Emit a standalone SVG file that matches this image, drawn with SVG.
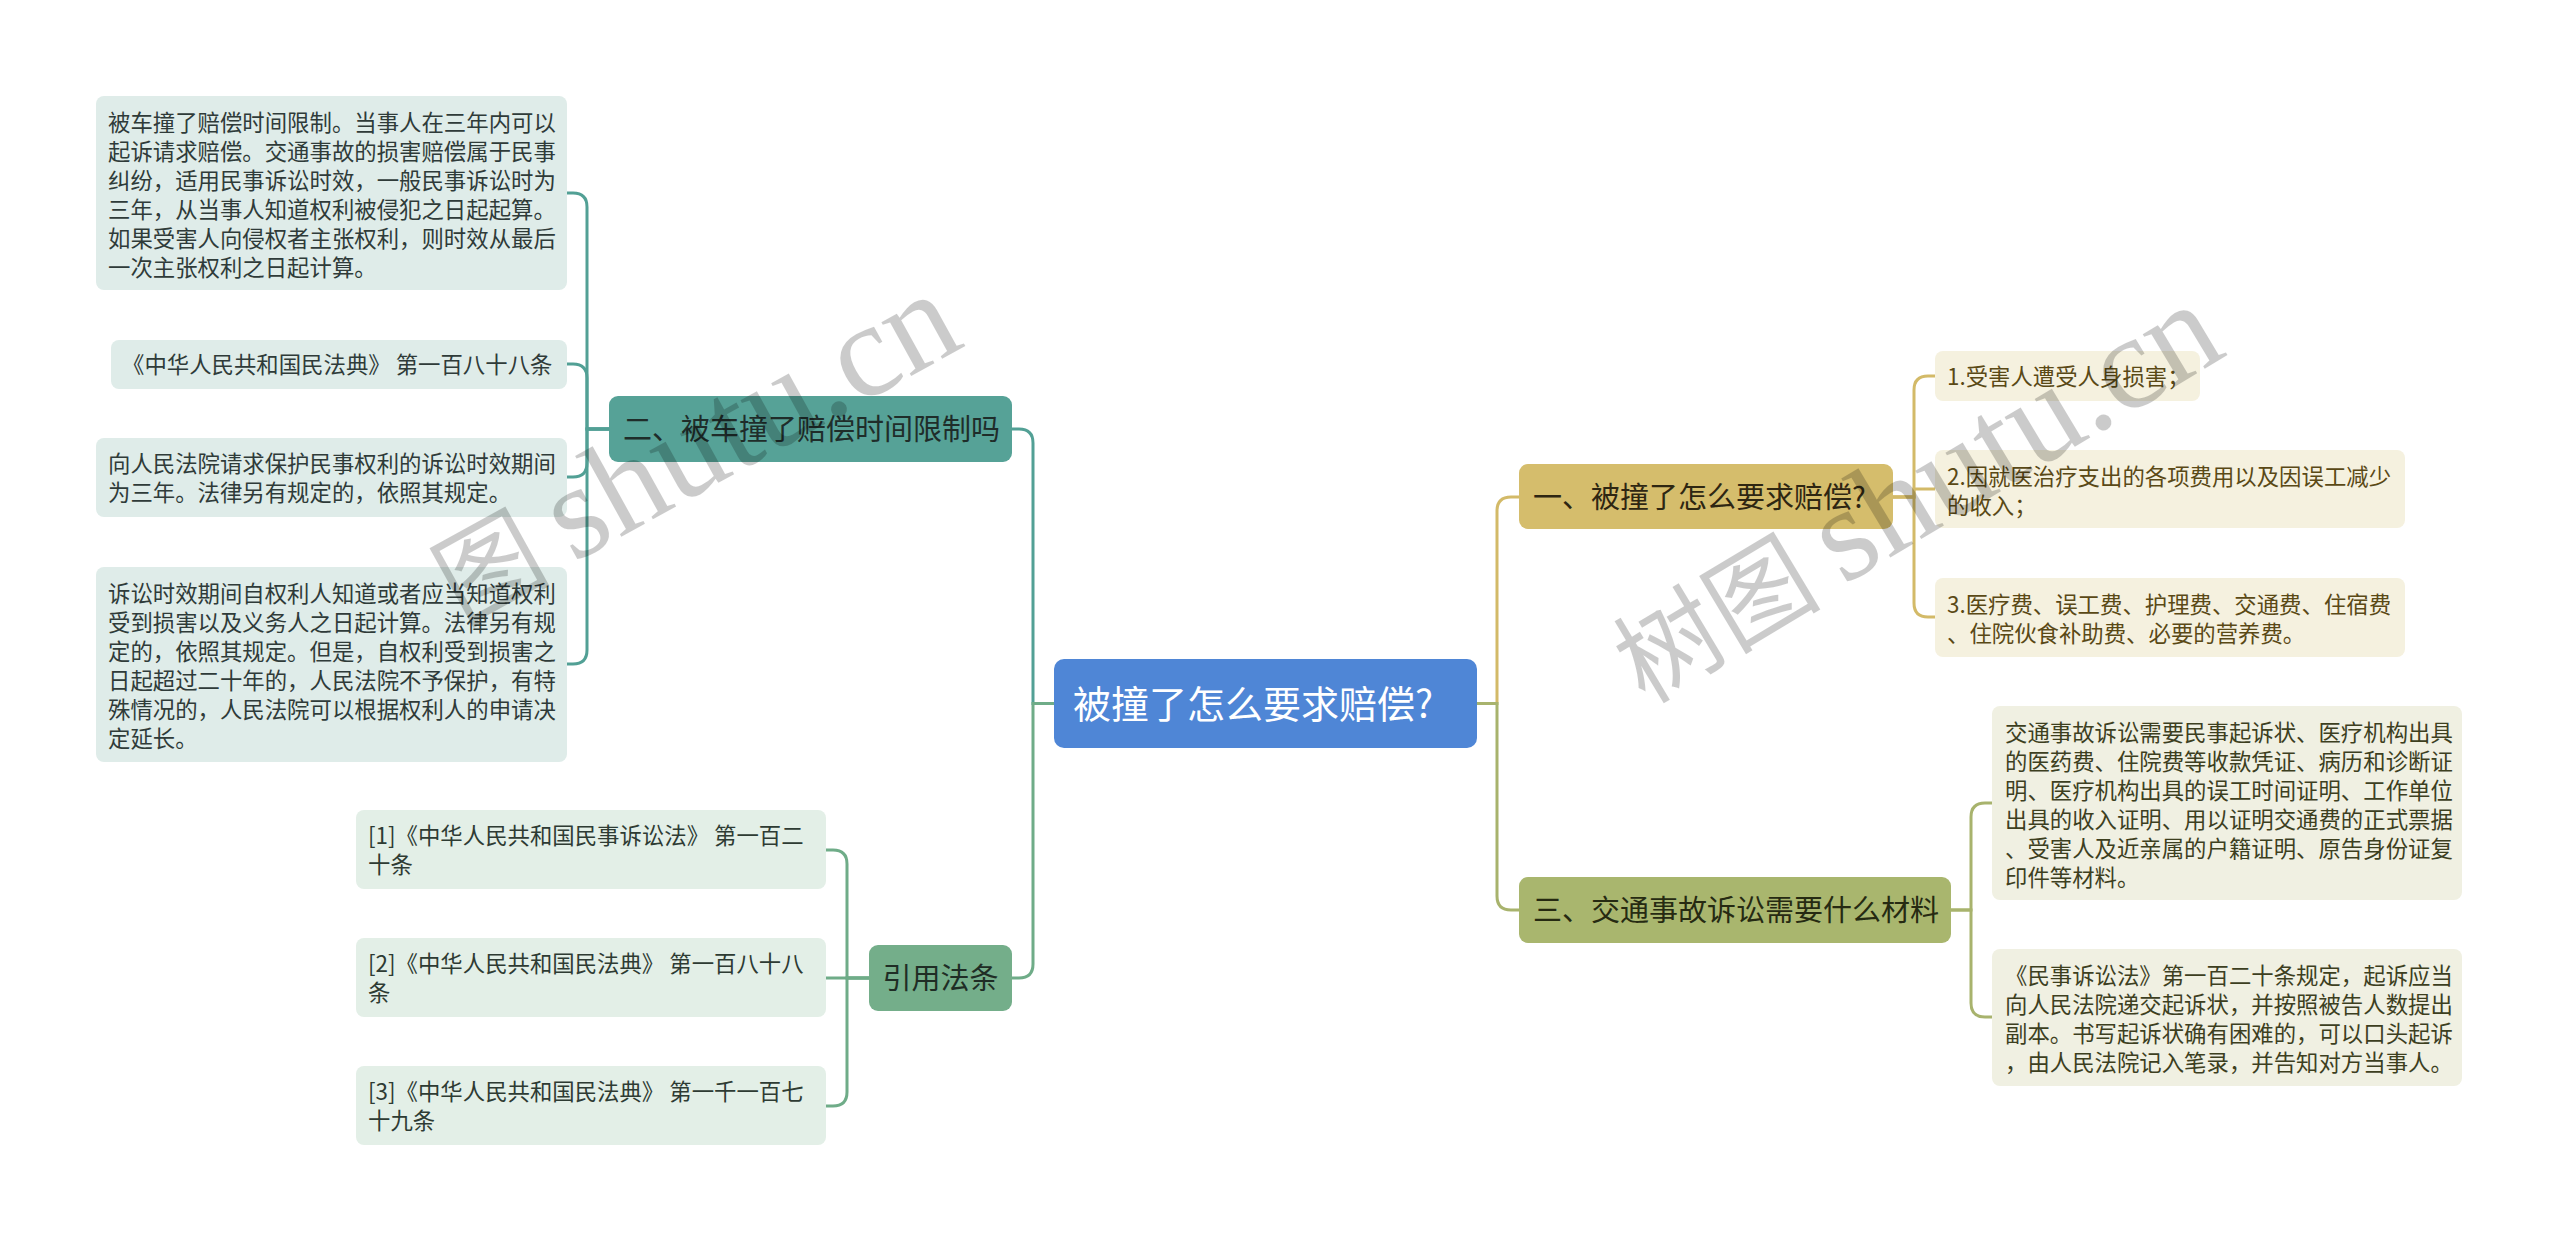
<svg xmlns="http://www.w3.org/2000/svg" width="2560" height="1243" viewBox="0 0 2560 1243">
<style>
text{font-family:"Noto Sans CJK SC","Noto Sans",sans-serif}
.c{font-size:22.4px}
.m{font-size:29px}
.line{fill:none;stroke-width:3;stroke-linecap:round}
.teal{stroke:#52a095}
.grn{stroke:#6fac88}
.gold{stroke:#d3ba68}
.olv{stroke:#a8b36d}
.lt{fill:#dfece9}
.lg{fill:#e3efe7}
.ly{fill:#f5f1df}
.lo{fill:#f0f0e2}
.tt{fill:#2f3b39}
.tg{fill:#2e3b33}
.ty{fill:#5a4916}
.to{fill:#3d3f1f}
.wm{fill:#000;opacity:0.2}
</style>
<rect width="2560" height="1243" fill="#ffffff"/>

<g id="connectors">
  <path class="line teal" d="M1054,703.5 H1033 V443 Q1033,429 1019,429 H1012"/>
  <path class="line grn" d="M1054,703.5 H1033 V964 Q1033,978 1019,978 H1012"/>
  <path class="line gold" d="M1477,703.5 H1497 V511 Q1497,497 1511,497 H1519"/>
  <path class="line olv" d="M1477,703.5 H1497 V896 Q1497,910 1511,910 H1519"/>

  <path class="line teal" d="M609,429 H587 V207 Q587,193 573,193 H567"/>
  <path class="line teal" d="M609,429 H587 V378 Q587,364 573,364 H567"/>
  <path class="line teal" d="M609,429 H587 V463 Q587,477 573,477 H567"/>
  <path class="line teal" d="M609,429 H587 V650 Q587,664 573,664 H567"/>

  <path class="line grn" d="M869,978 H847 V864 Q847,850 833,850 H826"/>
  <path class="line grn" d="M869,978 H826"/>
  <path class="line grn" d="M869,978 H847 V1092 Q847,1106 833,1106 H826"/>

  <path class="line gold" d="M1893,497 H1914 V390 Q1914,376 1928,376 H1935"/>
  <path class="line gold" d="M1893,497 H1914 V489 H1935"/>
  <path class="line gold" d="M1893,497 H1914 V603 Q1914,617 1928,617 H1935"/>

  <path class="line olv" d="M1951,910 H1971 V817 Q1971,803 1985,803 H1992"/>
  <path class="line olv" d="M1951,910 H1971 V1003 Q1971,1017 1985,1017 H1992"/>
</g>

<g id="root">
  <rect x="1054" y="659" width="423" height="89" rx="10" fill="#4f86d6"/>
  <text x="1073" y="718" font-size="38" fill="#ffffff">被撞了怎么要求赔偿?</text>
</g>

<g id="b2">
  <rect x="609" y="396" width="403" height="66" rx="9" fill="#56a297"/>
  <text class="m" x="623" y="440" fill="#1f2d2a">二、被车撞了赔偿时间限制吗</text>
</g>
<g id="b2c1">
  <rect class="lt" x="96" y="96" width="471" height="194" rx="8"/>
  <text class="c tt" x="108">
    <tspan x="108" y="131">被车撞了赔偿时间限制。当事人在三年内可以</tspan>
    <tspan x="108" y="160">起诉请求赔偿。交通事故的损害赔偿属于民事</tspan>
    <tspan x="108" y="189">纠纷，适用民事诉讼时效，一般民事诉讼时为</tspan>
    <tspan x="108" y="218">三年，从当事人知道权利被侵犯之日起起算。</tspan>
    <tspan x="108" y="247">如果受害人向侵权者主张权利，则时效从最后</tspan>
    <tspan x="108" y="276">一次主张权利之日起计算。</tspan>
  </text>
</g>
<g id="b2c2">
  <rect class="lt" x="111" y="340" width="456" height="49" rx="8"/>
  <text class="c tt" x="122" y="373">《中华人民共和国民法典》 第一百八十八条</text>
</g>
<g id="b2c3">
  <rect class="lt" x="96" y="438" width="471" height="79" rx="8"/>
  <text class="c tt">
    <tspan x="108" y="472">向人民法院请求保护民事权利的诉讼时效期间</tspan>
    <tspan x="108" y="501">为三年。法律另有规定的，依照其规定。</tspan>
  </text>
</g>
<g id="b2c4">
  <rect class="lt" x="96" y="567" width="471" height="195" rx="8"/>
  <text class="c tt">
    <tspan x="108" y="602">诉讼时效期间自权利人知道或者应当知道权利</tspan>
    <tspan x="108" y="631">受到损害以及义务人之日起计算。法律另有规</tspan>
    <tspan x="108" y="660">定的，依照其规定。但是，自权利受到损害之</tspan>
    <tspan x="108" y="689">日起超过二十年的，人民法院不予保护，有特</tspan>
    <tspan x="108" y="718">殊情况的，人民法院可以根据权利人的申请决</tspan>
    <tspan x="108" y="747">定延长。</tspan>
  </text>
</g>

<g id="b4">
  <rect x="869" y="945" width="143" height="66" rx="9" fill="#74ae8a"/>
  <text class="m" x="940.5" y="989" text-anchor="middle" fill="#1f2d25">引用法条</text>
</g>
<g id="b4c1">
  <rect class="lg" x="356" y="810" width="470" height="79" rx="8"/>
  <text class="c tg">
    <tspan x="368" y="844">[1]《中华人民共和国民事诉讼法》 第一百二</tspan>
    <tspan x="368" y="873">十条</tspan>
  </text>
</g>
<g id="b4c2">
  <rect class="lg" x="356" y="938" width="470" height="79" rx="8"/>
  <text class="c tg">
    <tspan x="368" y="972">[2]《中华人民共和国民法典》 第一百八十八</tspan>
    <tspan x="368" y="1001">条</tspan>
  </text>
</g>
<g id="b4c3">
  <rect class="lg" x="356" y="1066" width="470" height="79" rx="8"/>
  <text class="c tg">
    <tspan x="368" y="1100">[3]《中华人民共和国民法典》 第一千一百七</tspan>
    <tspan x="368" y="1129">十九条</tspan>
  </text>
</g>

<g id="b1">
  <rect x="1519" y="464" width="374" height="65" rx="9" fill="#d5bd6c"/>
  <text class="m" x="1533" y="508" fill="#2e2612">一、被撞了怎么要求赔偿?</text>
</g>
<g id="b1c1">
  <rect class="ly" x="1935" y="351" width="265" height="50" rx="8"/>
  <text class="c ty" x="1947" y="385">1.受害人遭受人身损害；</text>
</g>
<g id="b1c2">
  <rect class="ly" x="1935" y="450" width="470" height="78" rx="8"/>
  <text class="c ty">
    <tspan x="1947" y="485">2.因就医治疗支出的各项费用以及因误工减少</tspan>
    <tspan x="1947" y="514">的收入；</tspan>
  </text>
</g>
<g id="b1c3">
  <rect class="ly" x="1935" y="578" width="470" height="79" rx="8"/>
  <text class="c ty">
    <tspan x="1947" y="613">3.医疗费、误工费、护理费、交通费、住宿费</tspan>
    <tspan x="1947" y="642">、住院伙食补助费、必要的营养费。</tspan>
  </text>
</g>

<g id="b3">
  <rect x="1519" y="877" width="432" height="66" rx="9" fill="#a9b66e"/>
  <text class="m" x="1533" y="921" fill="#262a12">三、交通事故诉讼需要什么材料</text>
</g>
<g id="b3c1">
  <rect class="lo" x="1992" y="706" width="470" height="194" rx="8"/>
  <text class="c to">
    <tspan x="2005" y="741">交通事故诉讼需要民事起诉状、医疗机构出具</tspan>
    <tspan x="2005" y="770">的医药费、住院费等收款凭证、病历和诊断证</tspan>
    <tspan x="2005" y="799">明、医疗机构出具的误工时间证明、工作单位</tspan>
    <tspan x="2005" y="828">出具的收入证明、用以证明交通费的正式票据</tspan>
    <tspan x="2005" y="857">、受害人及近亲属的户籍证明、原告身份证复</tspan>
    <tspan x="2005" y="886">印件等材料。</tspan>
  </text>
</g>
<g id="b3c2">
  <rect class="lo" x="1992" y="949" width="470" height="137" rx="8"/>
  <text class="c to">
    <tspan x="2005" y="984">《民事诉讼法》第一百二十条规定，起诉应当</tspan>
    <tspan x="2005" y="1013">向人民法院递交起诉状，并按照被告人数提出</tspan>
    <tspan x="2005" y="1042">副本。书写起诉状确有困难的，可以口头起诉</tspan>
    <tspan x="2005" y="1071">，由人民法院记入笔录，并告知对方当事人。</tspan>
  </text>
</g>

<g id="watermarks">
  <text class="wm" transform="translate(462,625) rotate(-29)"><tspan font-size="104">图 </tspan><tspan font-size="134" font-family="Liberation Serif,serif">shutu.cn</tspan></text>
  <text class="wm" transform="translate(1645,705) rotate(-31)"><tspan font-size="104">树图 </tspan><tspan font-size="134" font-family="Liberation Serif,serif">shutu.cn</tspan></text>
</g>
</svg>
